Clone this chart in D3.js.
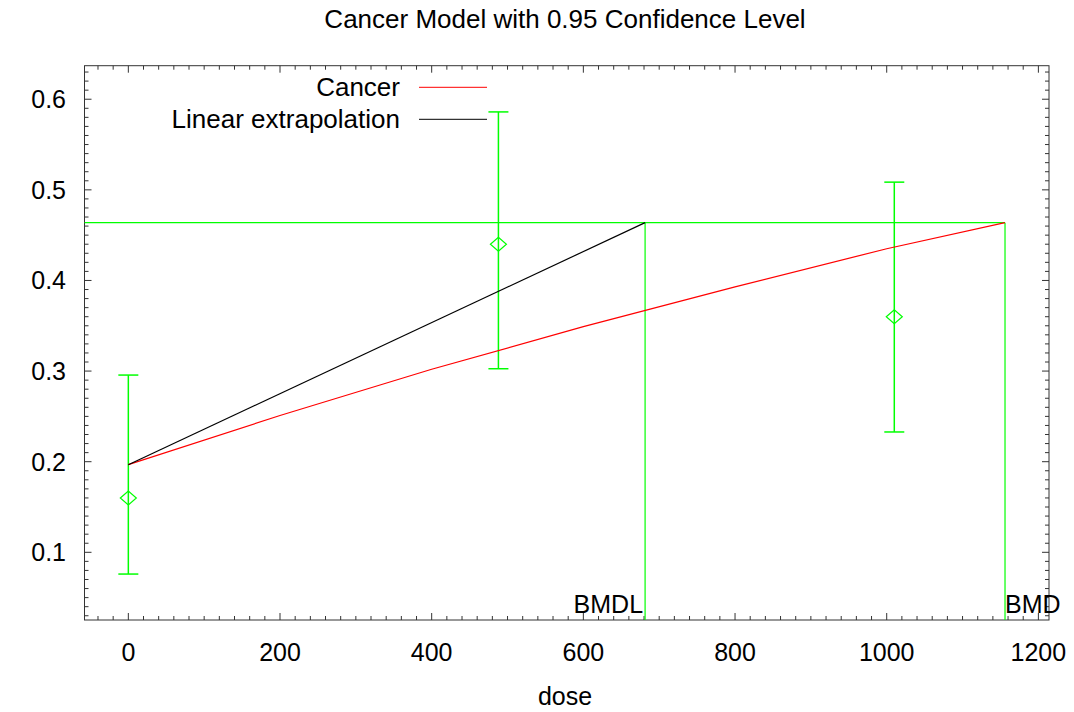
<!DOCTYPE html>
<html>
<head>
<meta charset="utf-8">
<script src="https://cdn.jsdelivr.net/npm/d3@7"></script>
<style>
  body { margin: 0; background: #fff; }
  text { font-family: "Liberation Sans", Arial, sans-serif; fill: #000; }
</style>
</head>
<body>
<div id="chart"></div>
<script>
// observed data (dose groups)
const doses = [0, 488, 1010];
const means = [0.160, 0.440, 0.360];
const lower = [0.076, 0.3026, 0.2328];
const upper = [0.2956, 0.586, 0.5085];

// fitted cancer model curve
const modelDose = [0, 200, 400, 600, 800, 1000, 1156];
const modelResp = [0.1967, 0.251, 0.302, 0.349, 0.393, 0.435, 0.4638];

// benchmark values
const bmr = 0.4638;
const bmdl = 681.4;
const bmd = 1156;

const xTicks = [0, 200, 400, 600, 800, 1000, 1200];
const yTicks = [0.1, 0.2, 0.3, 0.4, 0.5, 0.6];

const W = 1074, H = 712;
const mLeft = 84.5, mRight = 1049, mTop = 65.7, mBottom = 620;

const svg = d3.select("#chart").append("svg")
  .attr("width", W)
  .attr("height", H);

const x = d3.scaleLinear().domain([-57.8, 1214]).range([mLeft, mRight]);
const y = d3.scaleLinear().domain([0.0253, 0.637]).range([mBottom, mTop]);

// title
svg.append("text")
  .attr("x", 565).attr("y", 28)
  .attr("text-anchor", "middle")
  .style("font-size", "26px")
  .text("Cancer Model with 0.95 Confidence Level");

// ticks on all four sides
const xMinor = d3.range(-40, 1214, 20);
const yMinor = d3.range(3, 64).map(v => v / 100);
const tickG = svg.append("g").attr("stroke", "#333").attr("stroke-width", 1);

xMinor.forEach(v => {
  const major = v % 200 === 0;
  const len = major ? 7 : 4;
  tickG.append("line").attr("x1", x(v)).attr("x2", x(v)).attr("y1", mBottom).attr("y2", mBottom - len);
  tickG.append("line").attr("x1", x(v)).attr("x2", x(v)).attr("y1", mTop).attr("y2", mTop + len);
});
yMinor.forEach(v => {
  const major = Math.round(v * 100) % 10 === 0;
  const len = major ? 7 : 4;
  tickG.append("line").attr("x1", mLeft).attr("x2", mLeft + len).attr("y1", y(v)).attr("y2", y(v));
  tickG.append("line").attr("x1", mRight).attr("x2", mRight - len).attr("y1", y(v)).attr("y2", y(v));
});

// tick labels
svg.selectAll(".xl")
  .data(xTicks)
  .enter().append("text")
  .attr("x", d => x(d))
  .attr("y", 661)
  .attr("text-anchor", "middle")
  .style("font-size", "25px")
  .text(d => d);

svg.selectAll(".yl")
  .data(yTicks)
  .enter().append("text")
  .attr("x", 66)
  .attr("y", d => y(d) + 9)
  .attr("text-anchor", "end")
  .style("font-size", "25px")
  .text(d => d.toFixed(1));

svg.append("text")
  .attr("x", 565).attr("y", 705)
  .attr("text-anchor", "middle")
  .style("font-size", "25px")
  .text("dose");

// frame
svg.append("rect")
  .attr("x", mLeft).attr("y", mTop)
  .attr("width", mRight - mLeft).attr("height", mBottom - mTop)
  .attr("fill", "none").attr("stroke", "#333").attr("stroke-width", 1);

const green = "#00ff00";

// BMR / BMDL / BMD lines
svg.append("line")
  .attr("x1", mLeft).attr("x2", x(bmd))
  .attr("y1", y(bmr)).attr("y2", y(bmr))
  .attr("stroke", green).attr("stroke-width", 1.2);
[bmdl, bmd].forEach(v => {
  svg.append("line")
    .attr("x1", x(v)).attr("x2", x(v))
    .attr("y1", y(bmr)).attr("y2", mBottom)
    .attr("stroke", green).attr("stroke-width", 1.2);
});

svg.append("text")
  .attr("x", x(bmdl) - 2).attr("y", 613)
  .attr("text-anchor", "end")
  .style("font-size", "25px")
  .text("BMDL");
svg.append("text")
  .attr("x", x(bmd)).attr("y", 613)
  .attr("text-anchor", "start")
  .style("font-size", "25px")
  .text("BMD");

// error bars and means
const bars = svg.append("g").attr("stroke", green).attr("stroke-width", 1.5).attr("fill", "none");
doses.forEach((d, i) => {
  const cx = x(d);
  bars.append("line").attr("x1", cx).attr("x2", cx).attr("y1", y(lower[i])).attr("y2", y(upper[i]));
  bars.append("line").attr("x1", cx - 10).attr("x2", cx + 10).attr("y1", y(lower[i])).attr("y2", y(lower[i]));
  bars.append("line").attr("x1", cx - 10).attr("x2", cx + 10).attr("y1", y(upper[i])).attr("y2", y(upper[i]));
  const cy = y(means[i]);
  bars.append("path")
    .attr("stroke-width", 1.2)
    .attr("d", `M${cx - 8},${cy}L${cx},${cy - 7}L${cx + 8},${cy}L${cx},${cy + 7}Z`);
});

// model curve
const line = d3.line().x(d => x(d[0])).y(d => y(d[1]));
svg.append("path")
  .datum(modelDose.map((d, i) => [d, modelResp[i]]))
  .attr("d", line)
  .attr("fill", "none").attr("stroke", "#ff0000").attr("stroke-width", 1.2);

// linear extrapolation
svg.append("path")
  .datum([[0, modelResp[0]], [bmdl, bmr]])
  .attr("d", line)
  .attr("fill", "none").attr("stroke", "#000").attr("stroke-width", 1.2);

// legend
const legend = [
  { label: "Cancer", color: "#ff0000", ly: 87.3 },
  { label: "Linear extrapolation", color: "#000", ly: 119.3 }
];
legend.forEach(l => {
  svg.append("text")
    .attr("x", 400).attr("y", l.ly + 9)
    .attr("text-anchor", "end")
    .style("font-size", "26px")
    .text(l.label);
  svg.append("line")
    .attr("x1", 419).attr("x2", 487)
    .attr("y1", l.ly).attr("y2", l.ly)
    .attr("stroke", l.color).attr("stroke-width", 1);
});
</script>
</body>
</html>
